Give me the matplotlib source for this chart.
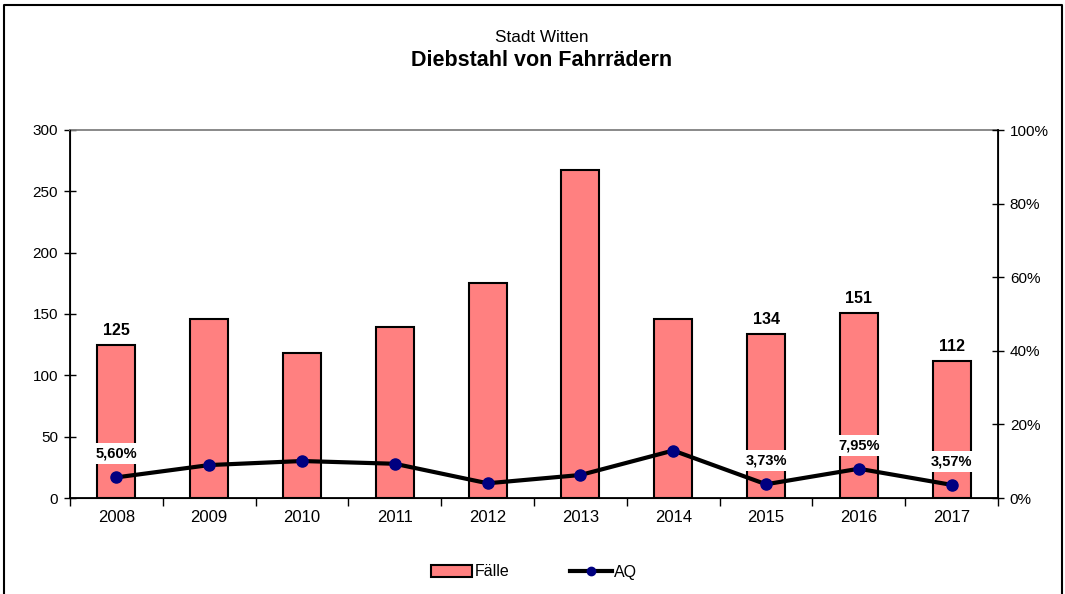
import numpy as np
import matplotlib.pyplot as plt
from matplotlib.lines import Line2D
from matplotlib.patches import Patch

plt.rcParams['font.family'] = ['Liberation Sans', 'DejaVu Sans']

years = ["2008", "2009", "2010", "2011", "2012", "2013", "2014", "2015", "2016", "2017"]
faelle = [125, 146, 118, 139, 175, 267, 146, 134, 151, 112]
aq = [5.60, 8.95, 10.05, 9.3, 4.0, 6.25, 12.9, 3.73, 7.95, 3.57]
bar_labels = {0: "125", 7: "134", 8: "151", 9: "112"}
aq_labels = {0: "5,60%", 7: "3,73%", 8: "7,95%", 9: "3,57%"}

W, H = 1065, 594
fig = plt.figure(figsize=(W / 100, H / 100), dpi=100)
ax = fig.add_axes([70 / W, 1 - 498 / H, 928 / W, 368 / H])
ax2 = ax.twinx()

x = np.arange(len(years))
ax.bar(x, faelle, width=0.41, color="#FF8080", edgecolor="black", linewidth=1.5, zorder=2)
for i, t in bar_labels.items():
    ax.annotate(t, (x[i], faelle[i]), xytext=(0, 5), textcoords="offset points",
                ha="center", va="bottom", fontsize=11.5, fontweight="bold")

ax.set_xlim(-0.5, len(years) - 0.5)
ax.set_ylim(0, 300)
ax.set_yticks(range(0, 301, 50))
ax.set_xticks(x)
ax.set_xticklabels(years)
ax.set_xticks(np.arange(-0.5, len(years), 1), minor=True)
ax.tick_params(axis="x", which="major", length=0, pad=9, labelsize=12)
ax.tick_params(axis="x", which="minor", length=6, direction="out", width=1)
ax.tick_params(axis="y", direction="inout", length=9, width=1, labelsize=11, pad=4)
for s in ["left", "bottom"]:
    ax.spines[s].set_linewidth(1.3)
ax.spines["top"].set_color("#808080")
ax.spines["top"].set_linewidth(1.3)

ax2.plot(x, aq, color="black", lw=3, marker="o", markersize=8,
         markerfacecolor="#000080", markeredgecolor="#000080", zorder=3)
for i, t in aq_labels.items():
    ax2.annotate(t, (x[i], aq[i]), xytext=(0, 12), textcoords="offset points",
                 ha="center", va="bottom", fontsize=10.5, fontweight="bold",
                 bbox=dict(facecolor="white", edgecolor="none", pad=2.5))
ax2.set_ylim(0, 100)
ax2.set_yticks(range(0, 101, 20))
ax2.set_yticklabels([f"{v}%" for v in range(0, 101, 20)])
ax2.tick_params(axis="y", direction="inout", length=9, width=1, labelsize=11, pad=4)
ax2.spines["right"].set_linewidth(1.3)
ax2.spines["top"].set_visible(False)

fig.text(542 / W, 1 - 38 / H, "Stadt Witten", ha="center", va="center", fontsize=12.3)
fig.text(542 / W, 1 - 60 / H, "Diebstahl von Fahrrädern", ha="center", va="center",
         fontsize=15.5, fontweight="bold")

handles = [Patch(facecolor="#FF8080", edgecolor="black", linewidth=1.5),
           Line2D([0], [0], color="black", lw=3, marker="o", markersize=6,
                  markerfacecolor="#000080", markeredgecolor="#000080")]
fig.legend(handles, ["Fälle", "AQ"], loc="center", bbox_to_anchor=(534 / W, 1 - 572 / H),
           ncol=2, frameon=False, fontsize=11.5, handlelength=2.6, handletextpad=0.15,
           columnspacing=3.8)

fig.add_artist(Line2D([4 / W, 4 / W, 1062 / W, 1062 / W], [0, 1 - 5 / H, 1 - 5 / H, 0],
                      color="black", lw=1.5, transform=fig.transFigure))

fig.savefig("out.png", dpi=100)
